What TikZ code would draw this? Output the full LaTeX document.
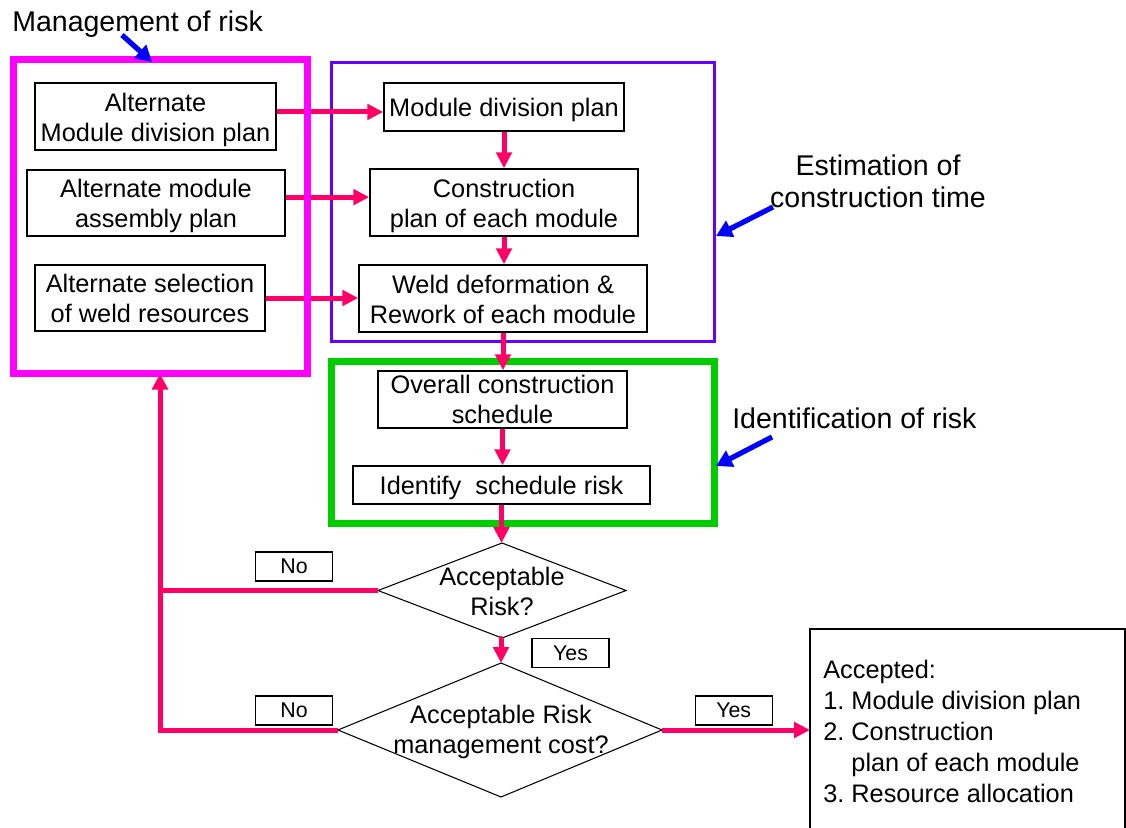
\documentclass[tikz,border=0pt]{standalone}
\usepackage{fontspec}
\setmainfont{Liberation Sans}
\usetikzlibrary{arrows.meta}
\definecolor{flowpink}{RGB}{255,0,102}
\definecolor{riskmag}{RGB}{255,0,255}
\definecolor{estviolet}{RGB}{102,0,255}
\definecolor{idgreen}{RGB}{0,204,0}
\definecolor{callblue}{RGB}{0,0,255}
\newcommand{\pxu}{0.75pt}
% struts for the first line (ascent) and the last line (descent) of box texts
\newcommand{\lt}{\rule{0pt}{20.2pt}}
\newcommand{\lb}{\rule[-5.3pt]{0pt}{5.3pt}}
\frenchspacing

\begin{document}
\begin{tikzpicture}[x=0.75pt,y=-0.75pt,
  stepbox/.style={draw=black, line width=1.1pt, fill=white, inner sep=0pt,
    align=center, font=\fontsize{19}{22.5}\selectfont},
  tag/.style={draw=black, line width=1pt, fill=white, inner sep=0pt,
    minimum width=77*\pxu, minimum height=29*\pxu, font=\fontsize{16}{18}\selectfont},
  frame/.style={inner sep=0pt, fill=none},
  flow/.style={draw=flowpink, line width=3.75pt, -{Triangle[length=12pt,width=11.5pt]}},
  flowline/.style={draw=flowpink, line width=3.75pt},
  callout/.style={draw=callblue, line width=3.9pt, -{Triangle[length=12pt,width=13pt]}},
  caption/.style={inner sep=0pt, font=\fontsize{21.4}{24}\selectfont},
  decision/.style={draw=black, line width=0.8pt, fill=white},
  qtext/.style={inner sep=0pt, align=center, font=\fontsize{19}{22.5}\selectfont}
]
\useasboundingbox (0,0) rectangle (1126,827);

% group frames
\node[frame, draw=estviolet, line width=2.25pt, minimum width=383*\pxu, minimum height=278.5*\pxu]
  (estframe) at (523.25,202.25) {};
\node[frame, draw=idgreen, line width=5.25pt, minimum width=383*\pxu, minimum height=162*\pxu]
  (idframe) at (523,442.5) {};

% alternatives
\node[stepbox, minimum width=241*\pxu, minimum height=67*\pxu] (a1) at (155.5,116.5)
  {\lt Alternate\\Module division plan\lb};
\node[stepbox, minimum width=258*\pxu, minimum height=66*\pxu] (a2) at (156,203)
  {\lt Alternate module\\assembly plan\lb};
\node[stepbox, minimum width=230*\pxu, minimum height=66*\pxu] (a3) at (150,298)
  {\lt Alternate selection\\of weld resources\lb};

% estimation steps
\node[stepbox, minimum width=240*\pxu, minimum height=48*\pxu] (m1) at (504,107)
  {\lt Module division plan\lb};
\node[stepbox, minimum width=268*\pxu, minimum height=67*\pxu] (m2) at (504,202.5)
  {\lt Construction\\plan of each module\lb};
\node[stepbox, minimum width=288*\pxu, minimum height=67*\pxu] (m3) at (503,298.5)
  {\lt Weld deformation \&\\Rework of each module\lb};

% risk identification steps (this box is too low for the struts)
\node[stepbox, minimum width=249*\pxu, minimum height=57*\pxu] (o1) at (502.5,399.5)
  {Overall construction\\schedule};
\node[stepbox, minimum width=297*\pxu, minimum height=38*\pxu] (o2) at (501.5,485)
  {\lt Identify\ \ schedule risk\lb};

% decisions
\draw[decision] (502,543) coordinate (q1n) -- (626,590.5) coordinate (q1e)
  -- (502,638) coordinate (q1s) -- (378,590.5) coordinate (q1w) -- cycle;
\node[qtext] (q1) at (502,591) {Acceptable\\Risk?};
\draw[decision] (501,663) coordinate (q2n) -- (662,730) coordinate (q2e)
  -- (501,797) coordinate (q2s) -- (338,730) coordinate (q2w) -- cycle;
\node[qtext] (q2) at (501,732) {Acceptable Risk\\management cost?};

% accepted result box (runs off the lower edge)
\draw[black, line width=1pt] (810,830) coordinate (accbl) -- (810,629) coordinate (acctl)
  -- (1125,629) coordinate (acctr) -- (1125,830) coordinate (accbr);
\coordinate (accL) at (810,730);
\node[anchor=north west, inner sep=0pt, align=left, font=\fontsize{19}{23.3}\selectfont]
  (acctext) at (823,660)
  {Accepted:\\1. Module division plan\\2. Construction\\\phantom{2. }plan of each module\\3. Resource allocation};

% yes / no tags
\node[tag] (no1) at (294,566.5) {No};
\node[tag] (no2) at (294,710.5) {No};
\node[tag] (yes1) at (570.5,653) {Yes};
\node[tag] (yes2) at (733.7,710.5) {Yes};

% management frame node (outline drawn later, on top of the arrows)
\node[frame, minimum width=287*\pxu, minimum height=306.5*\pxu, line width=5.25pt]
  (mgframe) at (160,216.75) {};

% flow connectors
\coordinate (h1) at ([yshift=3.4pt]a1.east);
\coordinate (h2) at ([yshift=4.4pt]a2.east);
\coordinate (h3) at (a3.east);
\draw[flow] (h1) -- (h1 -| m1.west);
\draw[flow] (h2) -- (h2 -| m2.west);
\draw[flow] (h3) -- (h3 -| m3.west);
\draw[flow] (m1.south) -- (m1.south |- m2.north);
\draw[flow] (m2.south) -- (m2.south |- m3.north);
\draw[flow] (m3.south) -- (m3.south |- o1.north);
\draw[flow] (o1.south) -- (o1.south |- o2.north);
\draw[flow] (o2.south) -- (o2.south |- q1n);
\draw[flow] (q1s) -- (q1s -| q2n) -- (q2n);
\draw[flow] (q2e) -- (q2e -| accL);
\draw[flowline] (q1w) -- (q1w -| mgframe.south);
\draw[flow] (q2w) -| (mgframe.south);

% management frame outline
\draw[riskmag, line width=5.25pt] (mgframe.north west) rectangle (mgframe.south east);

% captions with callout arrows
\node[caption, anchor=base west] (lblmgmt) at (12,32) {Management of risk};
\node[caption, anchor=north, align=center] (lblest) at (878,155)
  {Estimation of\\construction time};
\node[caption, anchor=base west] (lblid) at (732,428) {Identification of risk};

\coordinate (c1s) at (122,35);   \coordinate (c1e) at (152,62);
\coordinate (c2s) at (773,207);  \coordinate (c2e) at (716,236);
\coordinate (c3s) at (772,437);  \coordinate (c3e) at (716,466);
\draw[callout] (c1s) -- (c1e);
\draw[callout] (c2s) -- (c2e);
\draw[callout] (c3s) -- (c3e);
\end{tikzpicture}
\end{document}
